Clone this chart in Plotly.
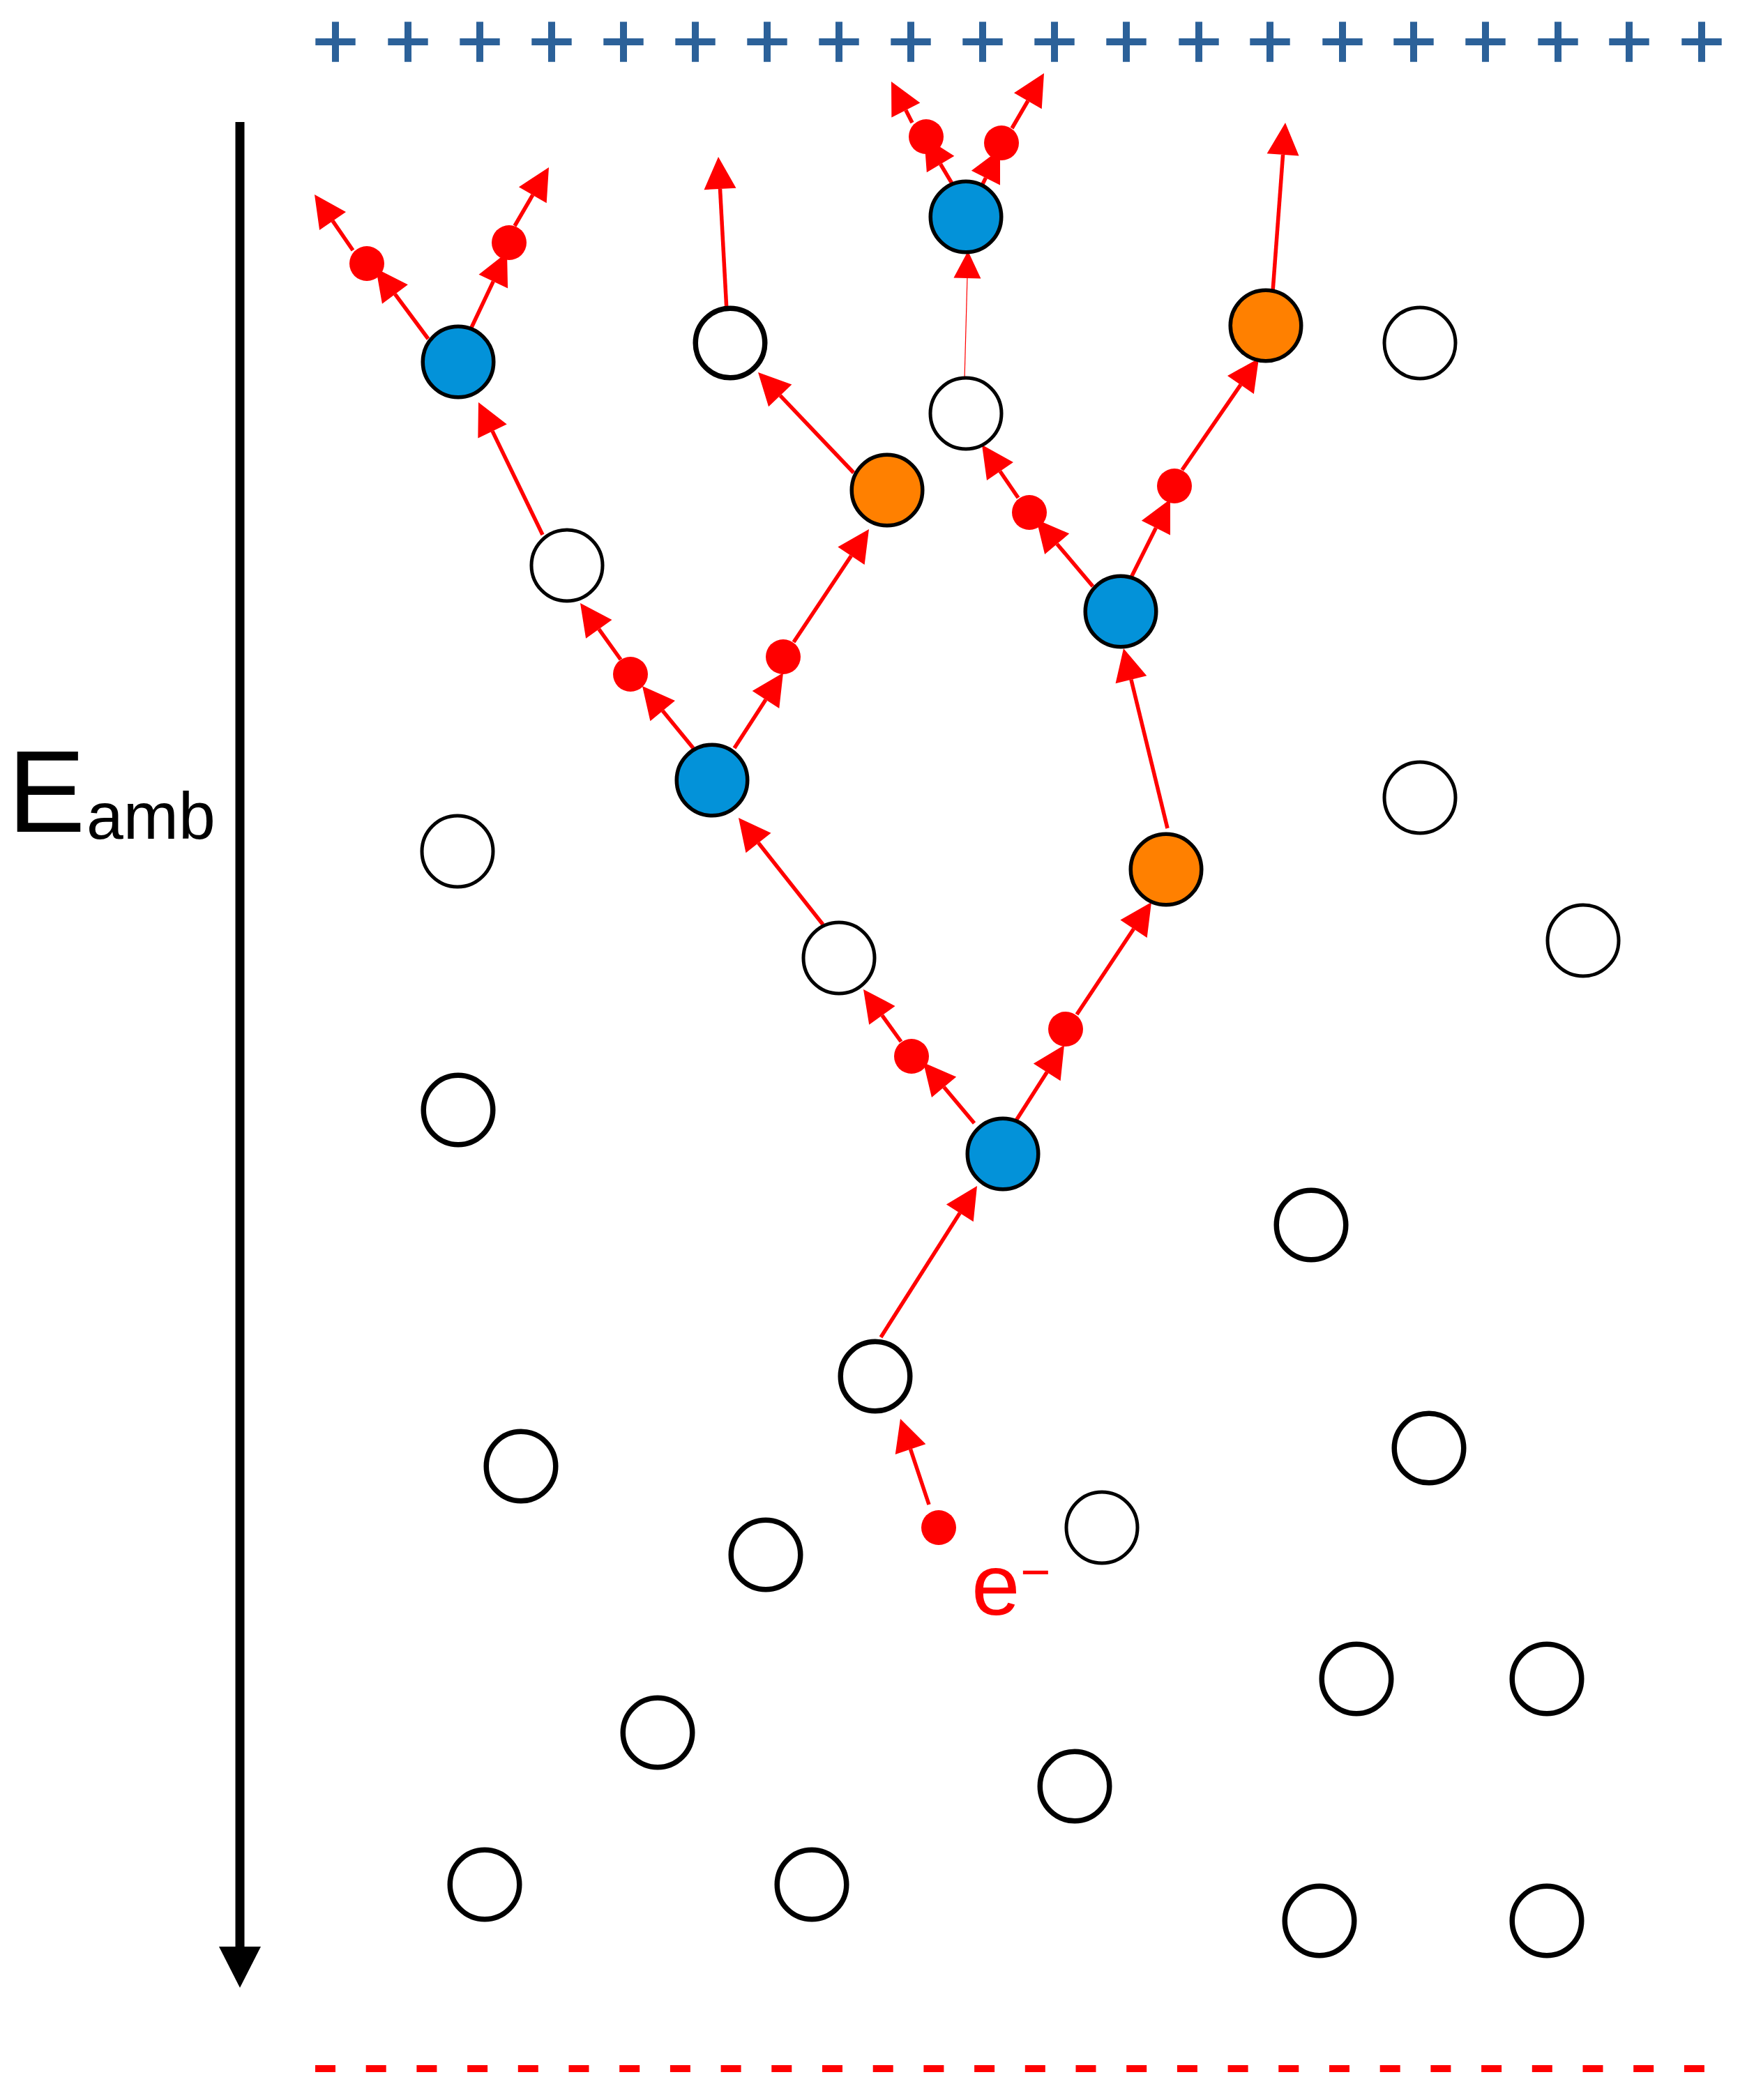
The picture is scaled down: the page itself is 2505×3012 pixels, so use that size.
import plotly.graph_objects as go

# Canvas units follow the reference image (y grows downward).
WIDTH = 2505
HEIGHT = 3012

# Charges along the top and the dashed plate along the bottom.
plus_x = [481, 585, 688, 791, 894, 997, 1100, 1203, 1306, 1409,
          1512, 1615, 1719, 1821, 1925, 2027, 2130, 2234, 2336, 2440]
plus_y = [60] * len(plus_x)
plate_x = [452, 2455]
plate_y = [2967, 2967]

# Atoms, by state.
blue_x = [657, 1021, 1385, 1607, 1438]
blue_y = [519, 1119, 311, 877, 1655]
orange_x = [1272, 1815, 1672]
orange_y = [703, 467, 1247]
thin_x = [2036, 1385, 813, 1203, 656, 2036, 2270, 1580]
thin_y = [492, 593, 811, 1374, 1221, 1144, 1349, 2191]
thick_x = [1047, 657, 1880, 1255, 2049, 747, 1098, 1945, 2218, 943, 1541, 695, 1164, 1892, 2218]
thick_y = [492, 1592, 1757, 1974, 2077, 2103, 2230, 2408, 2408, 2485, 2562, 2703, 2703, 2755, 2755]

# Free electrons.
electron_x = [526, 730, 1328, 1436, 904, 1123, 1476, 1684, 1307, 1528, 1346]
electron_y = [378, 348, 196, 205, 967, 942, 735, 697, 1515, 1476, 2191]

# Red arrows: start and tip.
arrow_x0 = [1332, 1263, 1457, 1544, 1397, 1292, 1180, 1674, 994, 890, 1053, 1138,
            778, 1224, 1042, 614, 506, 674, 738, 1368, 1308, 1407, 1451, 1825,
            1460, 1567, 1621, 1695]
arrow_y0 = [2158, 1918, 1607, 1455, 1611, 1494, 1326, 1188, 1073, 946, 1073, 921,
            767, 678, 446, 486, 359, 474, 324, 268, 176, 268, 184, 418,
            714, 841, 830, 674]
arrow_x1 = [1291, 1401, 1526, 1651, 1324, 1238, 1059, 1611, 921, 832, 1123, 1246,
            686, 1087, 1030, 539, 451, 727, 787, 1325, 1278, 1434, 1497, 1843,
            1408, 1486, 1678, 1805]
arrow_y1 = [2035, 1701, 1499, 1294, 1524, 1419, 1173, 930, 984, 865, 965, 759,
            577, 534, 225, 385, 279, 362, 240, 196, 117, 214, 105, 176,
            638, 745, 716, 514]

# The one faint arrow between the white atom and the top blue atom.
faint_x0, faint_y0, faint_x1, faint_y1 = 1383, 544, 1388, 360

# Field arrow on the left.
field_x0, field_y0, field_x1, field_y1 = 344, 175, 344, 2851


def arrow_parts(x0, y0, x1, y1, head_len, head_w):
    # Returns the shaft end and the triangle for the head.
    dx, dy = x1 - x0, y1 - y0
    dist = (dx ** 2 + dy ** 2) ** 0.5
    ux, uy = dx / dist, dy / dist
    bx, by = x1 - ux * head_len, y1 - uy * head_len
    px, py = -uy * head_w / 2, ux * head_w / 2
    return (bx, by), ([x1, bx + px, bx - px, x1], [y1, by + py, by - py, y1])


def add_arrows(fig, xs0, ys0, xs1, ys1, color, line_w, head_len, head_w):
    shaft_x, shaft_y, head_x, head_y = [], [], [], []
    for x0, y0, x1, y1 in zip(xs0, ys0, xs1, ys1):
        base, head = arrow_parts(x0, y0, x1, y1, head_len, head_w)
        shaft_x += [x0, base[0], None]
        shaft_y += [y0, base[1], None]
        head_x += head[0] + [None]
        head_y += head[1] + [None]
    fig.add_trace(go.Scatter(x=shaft_x, y=shaft_y, mode='lines',
                             line=dict(color=color, width=line_w)))
    fig.add_trace(go.Scatter(x=head_x, y=head_y, mode='lines', fill='toself',
                             fillcolor=color, line=dict(color=color, width=0)))


def add_atoms(fig, xs, ys, fill, line_w):
    fig.add_trace(go.Scatter(x=xs, y=ys, mode='markers',
                             marker=dict(size=107 - line_w, color=fill,
                                         line=dict(color='black', width=line_w))))


fig = go.Figure()

# Plates
fig.add_trace(go.Scatter(x=plus_x, y=plus_y, mode='markers',
                         marker=dict(symbol='cross-thin', size=41,
                                     line=dict(color='#2C6199', width=10))))
fig.add_trace(go.Scatter(x=plate_x, y=plate_y, mode='lines',
                         line=dict(color='#FF0000', width=10, dash='29px,43.7px')))

# Arrows
add_arrows(fig, [field_x0], [field_y0], [field_x1], [field_y1], 'black', 13, 59, 60)
add_arrows(fig, arrow_x0, arrow_y0, arrow_x1, arrow_y1, '#FF0000', 5.5, 46, 46)
add_arrows(fig, [faint_x0], [faint_y0], [faint_x1], [faint_y1], '#FF0000', 1.2, 39, 39)

# Atoms and electrons
add_atoms(fig, thin_x, thin_y, 'white', 5)
add_atoms(fig, thick_x, thick_y, 'white', 7.5)
add_atoms(fig, blue_x, blue_y, '#0392D9', 5.5)
add_atoms(fig, orange_x, orange_y, '#FF8000', 5.5)
fig.add_trace(go.Scatter(x=electron_x, y=electron_y, mode='markers',
                         marker=dict(size=50, color='#FF0000')))

# Labels
font = 'Liberation Sans'
fig.add_annotation(x=9, y=1135, text='E', showarrow=False, xanchor='left', yanchor='middle',
                   font=dict(family=font, size=167, color='black'))
fig.add_annotation(x=122, y=1170, text='amb', showarrow=False, xanchor='left', yanchor='middle',
                   font=dict(family=font, size=95, color='black'))
fig.add_annotation(x=1391, y=2272, text='e', showarrow=False, xanchor='left', yanchor='middle',
                   font=dict(family=font, size=125, color='#FF0000'))
fig.add_annotation(x=1461, y=2254, text='−', showarrow=False, xanchor='left', yanchor='middle',
                   font=dict(family=font, size=74, color='#FF0000'))

fig.update_layout(
    width=WIDTH,
    height=HEIGHT,
    margin=dict(l=0, r=0, t=0, b=0),
    showlegend=False,
    plot_bgcolor='white',
    paper_bgcolor='white',
    xaxis=dict(range=[0, WIDTH], visible=False),
    yaxis=dict(range=[HEIGHT, 0], visible=False),
)

fig.write_html("out.html", config={'displayModeBar': False},
               post_script="document.body.style.margin='0';")
